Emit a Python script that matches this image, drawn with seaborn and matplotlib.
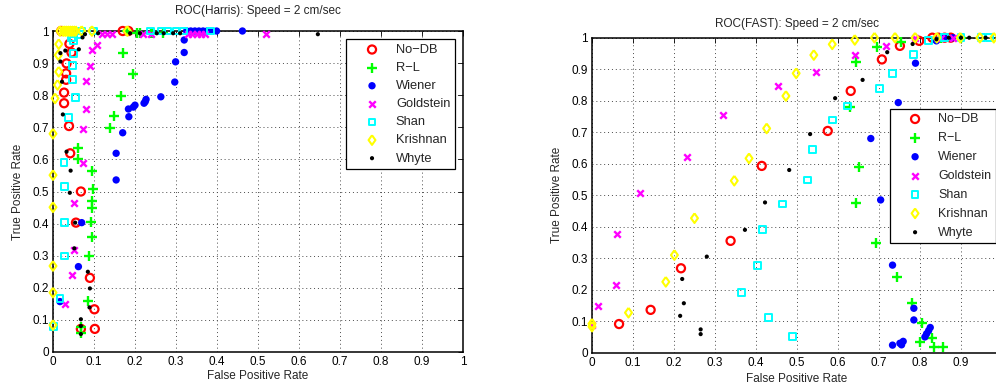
import matplotlib
matplotlib.use("Agg")
import matplotlib.pyplot as plt
import seaborn as sns
import pandas as pd

# ---------------- data: ROC points for the Harris detector ----------------
harris_nodb_x = [0.068, 0.102, 0.101, 0.090, 0.056, 0.068, 0.042, 0.039, 0.027, 0.027,
                 0.032, 0.032, 0.033, 0.045, 0.040, 0.020, 0.170, 0.184]
harris_nodb_y = [0.072, 0.072, 0.133, 0.231, 0.403, 0.500, 0.619, 0.704, 0.775, 0.808,
                 0.848, 0.868, 0.899, 0.933, 0.960, 1.000, 1.000, 1.000]

harris_rl_x = [0.171, 0.196, 0.166, 0.149, 0.140, 0.062, 0.062, 0.096, 0.098, 0.094,
               0.094, 0.092, 0.094, 0.089, 0.085, 0.068, 0.068, 0.030, 0.180, 0.204,
               0.212, 0.238, 0.243, 0.269]
harris_rl_y = [0.933, 0.866, 0.797, 0.734, 0.697, 0.636, 0.600, 0.565, 0.507, 0.471,
               0.448, 0.406, 0.357, 0.299, 0.159, 0.058, 0.077, 1.000, 1.000, 0.993,
               0.993, 0.995, 0.993, 0.993]

harris_wiener_x = [0.320, 0.320, 0.299, 0.297, 0.263, 0.227, 0.225, 0.222, 0.200, 0.196,
                   0.184, 0.185, 0.170, 0.154, 0.154, 0.070, 0.062, 0.017, 0.326, 0.336,
                   0.346, 0.356, 0.366, 0.376, 0.386, 0.399, 0.462]
harris_wiener_y = [0.972, 0.933, 0.904, 0.841, 0.795, 0.787, 0.780, 0.775, 0.769, 0.763,
                   0.757, 0.733, 0.683, 0.619, 0.536, 0.403, 0.266, 0.157, 1.000, 1.000,
                   1.000, 1.000, 1.000, 1.000, 1.000, 1.000, 1.000]

harris_gold_x = [0.107, 0.095, 0.091, 0.080, 0.080, 0.074, 0.073, 0.050, 0.052, 0.046,
                 0.029, 0.119, 0.131, 0.143, 0.220, 0.240, 0.330, 0.340, 0.350, 0.360,
                 0.370, 0.520]
harris_gold_y = [0.956, 0.940, 0.891, 0.844, 0.756, 0.694, 0.590, 0.465, 0.318, 0.240,
                 0.149, 0.990, 0.990, 0.990, 0.990, 0.990, 0.990, 0.990, 0.990, 0.990,
                 0.990, 0.990]

harris_shan_x = [0.050, 0.050, 0.048, 0.048, 0.054, 0.037, 0.027, 0.029, 0.028, 0.028,
                 0.017, 0.001, 0.046, 0.066, 0.070, 0.098, 0.237, 0.265, 0.280, 0.300,
                 0.318, 0.385]
harris_shan_y = [0.970, 0.930, 0.893, 0.849, 0.793, 0.731, 0.590, 0.516, 0.403, 0.299,
                 0.167, 0.080, 0.979, 0.990, 1.000, 1.000, 1.000, 1.000, 1.000, 1.000,
                 1.000, 1.000]

harris_krish_x = [0.000, 0.000, 0.005, 0.011, 0.014, 0.013, 0.014, 0.000, 0.000, 0.000,
                  0.000, 0.017, 0.025, 0.030, 0.035, 0.040, 0.045, 0.050, 0.055, 0.070,
                  0.095, 0.181]
harris_krish_y = [0.680, 0.551, 0.790, 0.832, 0.873, 0.925, 0.959, 0.451, 0.268, 0.185,
                  0.084, 1.000, 1.000, 1.000, 1.000, 1.000, 1.000, 1.000, 1.000, 1.000,
                  1.000, 1.000]

harris_whyte_x = [0.072, 0.063, 0.030, 0.018, 0.018, 0.022, 0.024, 0.033, 0.043, 0.041,
                  0.054, 0.052, 0.085, 0.090, 0.089, 0.068, 0.068, 0.068, 0.078, 0.110,
                  0.188, 0.212, 0.253, 0.270, 0.293, 0.310, 0.646]
harris_whyte_y = [0.980, 0.943, 0.939, 0.931, 0.905, 0.842, 0.740, 0.624, 0.565, 0.496,
                  0.403, 0.323, 0.250, 0.198, 0.139, 0.102, 0.081, 0.056, 0.990, 0.993,
                  0.993, 0.993, 0.993, 0.993, 0.993, 0.993, 0.990]

# ---------------- data: ROC points for the FAST detector ----------------
fast_nodb_x = [0.066, 0.143, 0.217, 0.338, 0.414, 0.575, 0.631, 0.707, 0.751, 0.798,
               0.830, 0.845, 0.860, 0.875]
fast_nodb_y = [0.091, 0.136, 0.268, 0.355, 0.593, 0.704, 0.831, 0.931, 0.974, 0.990,
               1.000, 1.000, 1.000, 1.000]

fast_rl_x = [0.857, 0.833, 0.800, 0.830, 0.806, 0.780, 0.743, 0.693, 0.643, 0.650,
             0.629, 0.643, 0.696, 0.754, 0.850, 0.900]
fast_rl_y = [0.019, 0.019, 0.035, 0.046, 0.095, 0.157, 0.241, 0.347, 0.476, 0.590,
             0.779, 0.924, 0.971, 0.987, 1.000, 1.000]

fast_wiener_x = [0.733, 0.751, 0.759, 0.755, 0.812, 0.816, 0.821, 0.825, 0.785, 0.785,
                 0.733, 0.704, 0.680, 0.747, 0.789, 0.840, 0.860, 0.880]
fast_wiener_y = [0.024, 0.030, 0.036, 0.025, 0.050, 0.060, 0.070, 0.080, 0.104, 0.141,
                 0.278, 0.485, 0.680, 0.794, 0.919, 0.990, 1.000, 1.000]

fast_gold_x = [0.000, 0.015, 0.059, 0.062, 0.117, 0.231, 0.320, 0.454, 0.546, 0.641,
               0.717, 0.788, 0.850, 0.880]
fast_gold_y = [0.087, 0.148, 0.215, 0.376, 0.506, 0.622, 0.755, 0.848, 0.890, 0.945,
               0.975, 0.998, 1.000, 1.000]

fast_shan_x = [0.489, 0.430, 0.365, 0.404, 0.415, 0.465, 0.525, 0.537, 0.587, 0.623,
               0.702, 0.733, 0.784, 0.820, 0.860, 0.900, 0.950, 0.970]
fast_shan_y = [0.051, 0.111, 0.192, 0.278, 0.392, 0.472, 0.548, 0.646, 0.739, 0.783,
               0.839, 0.887, 0.947, 0.990, 1.000, 1.000, 1.000, 1.000]

fast_krish_x = [0.000, 0.000, 0.089, 0.180, 0.201, 0.250, 0.347, 0.383, 0.426, 0.473,
                0.498, 0.541, 0.586, 0.641, 0.689, 0.739, 0.788, 0.841, 0.898, 0.946,
                0.980]
fast_krish_y = [0.083, 0.092, 0.127, 0.225, 0.310, 0.427, 0.546, 0.617, 0.712, 0.815,
                0.887, 0.945, 0.979, 0.993, 1.000, 1.000, 1.000, 1.000, 1.000, 1.000,
                1.000]

fast_whyte_x = [0.265, 0.265, 0.215, 0.224, 0.220, 0.280, 0.373, 0.422, 0.481, 0.532,
                0.593, 0.660, 0.720, 0.782, 0.840, 0.870, 0.900, 0.920, 0.960]
fast_whyte_y = [0.074, 0.059, 0.117, 0.157, 0.234, 0.305, 0.390, 0.477, 0.580, 0.694,
                0.808, 0.866, 0.954, 0.980, 0.995, 1.000, 1.000, 1.000, 1.000]

method_names = ["No\u2212DB", "R\u2212L", "Wiener", "Goldstein", "Shan", "Krishnan", "Whyte"]
tick_values = [0, 0.1, 0.2, 0.3, 0.4, 0.5, 0.6, 0.7, 0.8, 0.9, 1.0]
tick_labels = ["0", "0.1", "0.2", "0.3", "0.4", "0.5", "0.6", "0.7", "0.8", "0.9", "1"]
# the FAST panel runs past the right edge of the figure, so its last x label is not shown
fast_xtick_labels = tick_labels[:-1] + [""]

harris_series = [(harris_nodb_x, harris_nodb_y), (harris_rl_x, harris_rl_y),
                 (harris_wiener_x, harris_wiener_y), (harris_gold_x, harris_gold_y),
                 (harris_shan_x, harris_shan_y), (harris_krish_x, harris_krish_y),
                 (harris_whyte_x, harris_whyte_y)]
fast_series = [(fast_nodb_x, fast_nodb_y), (fast_rl_x, fast_rl_y),
               (fast_wiener_x, fast_wiener_y), (fast_gold_x, fast_gold_y),
               (fast_shan_x, fast_shan_y), (fast_krish_x, fast_krish_y),
               (fast_whyte_x, fast_whyte_y)]

# ---------------- marker styling (MATLAB-like) ----------------
wide_diamond = [(0, 1), (0.72, 0), (0, -1), (-0.72, 0), (0, 1)]
styles = [
    dict(marker="o", s=34, color=(1, 0, 0), facecolor="none", edgecolor=(1, 0, 0), linewidth=1.6),
    dict(marker="+", s=46, color=(0, 1, 0), linewidth=1.7),
    dict(marker="o", s=28, color=(0, 0, 1), edgecolor="none", linewidth=0),
    dict(marker="x", s=22, color=(1, 0, 1), linewidth=1.7),
    dict(marker="s", s=24, color=(0, 1, 1), facecolor="none", edgecolor=(0, 1, 1), linewidth=1.4),
    dict(marker=wide_diamond, s=48, color=(1, 1, 0), facecolor="none", edgecolor=(1, 1, 0), linewidth=1.5),
    dict(marker="o", s=9, color=(0, 0, 0), edgecolor="none", linewidth=0),
]

sns.set_style("white")
plt.rcParams["font.family"] = ["Liberation Sans", "DejaVu Sans"]
plt.rcParams["axes.unicode_minus"] = True

fig = plt.figure(figsize=(9.96, 3.9), dpi=100)
ax_h = fig.add_axes([53 / 996, (390 - 352) / 390, 410 / 996, 321 / 390])
ax_f = fig.add_axes([592 / 996, (390 - 352.7) / 390, 410 / 996, 315 / 390])


def draw_panel(ax, series, title, title_pad, xlabel_pad, xlabels):
    for (xs, ys), name, st in zip(series, method_names, styles):
        df = pd.DataFrame({"fpr": xs, "tpr": ys})
        sns.scatterplot(data=df, x="fpr", y="tpr", ax=ax, label=name, legend=False,
                        zorder=3, clip_on=False, **st)
    ax.set_xlim(0, 1)
    ax.set_ylim(0, 1)
    ax.set_xticks(tick_values)
    ax.set_xticklabels(xlabels)
    ax.set_yticks(tick_values)
    ax.set_yticklabels(tick_labels)
    ax.grid(True, color="#4a4a4a", linestyle=(0, (1, 3)), linewidth=0.7)
    ax.set_axisbelow(True)
    ax.tick_params(direction="in", length=3.5, width=0.6, top=True, right=True,
                   labelsize=8.5, pad=3, colors="black")
    for sp in ax.spines.values():
        sp.set_visible(True)
        sp.set_color("black")
        sp.set_linewidth(1.1)
    ax.set_title(title, fontsize=8.5, pad=title_pad)
    ax.set_xlabel("False Positive Rate", fontsize=8.5, labelpad=xlabel_pad)
    ax.set_ylabel("True Positive Rate", fontsize=8.5, labelpad=6)


draw_panel(ax_h, harris_series, "ROC(Harris): Speed = 2 cm/sec", 12, 1, tick_labels)
draw_panel(ax_f, fast_series, "ROC(FAST): Speed = 2 cm/sec", 8, 3, fast_xtick_labels)

leg_kw = dict(frameon=True, fancybox=False, framealpha=1, edgecolor="black",
              scatterpoints=1, borderpad=0.35, handlelength=3.3, handletextpad=0.2,
              borderaxespad=0)
lh = ax_h.legend(loc="upper right", bbox_to_anchor=(0.98, 0.974), fontsize=9.3,
                 labelspacing=0.47, **leg_kw)
lf = ax_f.legend(loc="upper left", bbox_to_anchor=(0.727, 0.774), fontsize=9,
                 labelspacing=0.55, **leg_kw)
for lg in (lh, lf):
    lg.get_frame().set_linewidth(0.9)
    lg.set_zorder(10)

fig.savefig("out.png", dpi=100)
